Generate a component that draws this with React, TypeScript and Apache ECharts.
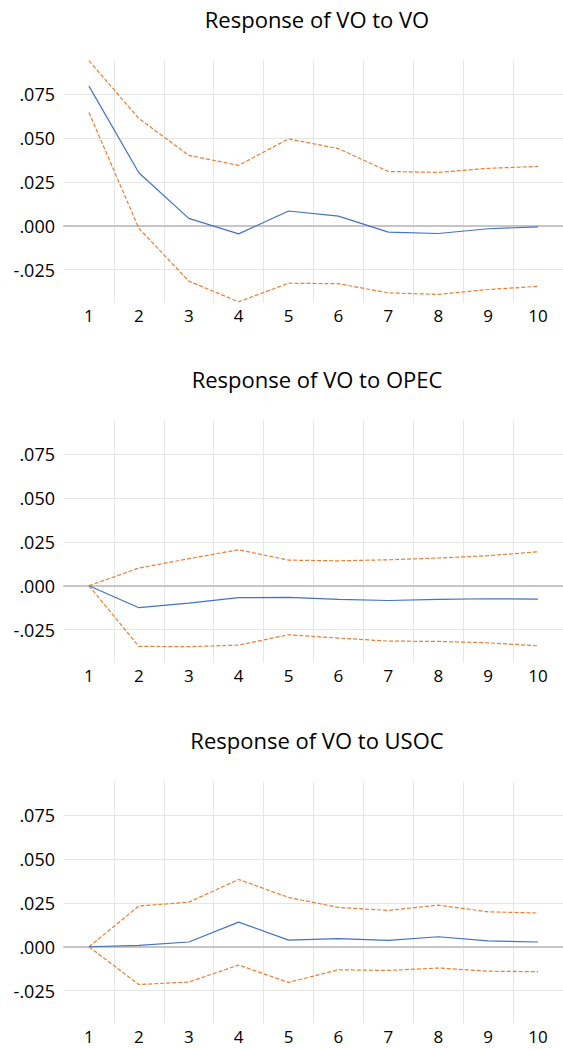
import React, { useEffect, useRef } from "react";
import * as echarts from "echarts";

const categories = ["1", "2", "3", "4", "5", "6", "7", "8", "9", "10"];
const titles = ["Response of VO to VO", "Response of VO to OPEC", "Response of VO to USOC"];

const voToVo = [0.0795, 0.0302, 0.0042, -0.0046, 0.0084, 0.0055, -0.0036, -0.0044, -0.0017, -0.0006];
const voToVoUpper = [0.094, 0.0611, 0.0401, 0.0344, 0.0495, 0.0439, 0.0309, 0.0304, 0.0327, 0.0338];
const voToVoLower = [0.0645, -0.0015, -0.0315, -0.0433, -0.0327, -0.033, -0.0382, -0.0391, -0.0363, -0.0345];

const voToOpec = [0, -0.0125, -0.0099, -0.0068, -0.0066, -0.0078, -0.0084, -0.0078, -0.0074, -0.0076];
const voToOpecUpper = [0, 0.0101, 0.0154, 0.0205, 0.0146, 0.0142, 0.0148, 0.0158, 0.0171, 0.0194];
const voToOpecLower = [0, -0.0345, -0.0347, -0.0338, -0.0279, -0.0298, -0.0315, -0.0317, -0.0325, -0.0342];

const voToUsoc = [0, 0.0008, 0.0027, 0.014, 0.0038, 0.0046, 0.0036, 0.0057, 0.0034, 0.0027];
const voToUsocUpper = [0, 0.0232, 0.0254, 0.0383, 0.0281, 0.0224, 0.0207, 0.0237, 0.0199, 0.0192];
const voToUsocLower = [0, -0.0215, -0.0201, -0.0104, -0.0203, -0.0131, -0.0135, -0.0121, -0.0139, -0.0142];

const panels = [
  { title: titles[0], mid: voToVo, upper: voToVoUpper, lower: voToVoLower },
  { title: titles[1], mid: voToOpec, upper: voToOpecUpper, lower: voToOpecLower },
  { title: titles[2], mid: voToUsoc, upper: voToUsocUpper, lower: voToUsocLower },
];

const FONT = "Open Sans";
const PANEL_TOPS = [60.7, 420.7, 781.7];
const PX_PER_UNIT = 1756;
const DATA_MIN = -0.0437;
const DATA_MAX = 0.094;
const GRID_LEFT = 64;
const GRID_WIDTH = 506;

function fmt(v: number) {
  const r = Math.round(v * 1000) / 1000;
  const s = Math.abs(r).toFixed(3).replace(/^0/, "");
  return (r < 0 ? "-" : "") + s;
}

export default function App() {
  const ref = useRef<HTMLDivElement>(null);
  useEffect(() => {
    if (!ref.current) return;
    const chart = echarts.init(ref.current, null, { renderer: "svg" });
    const grid: any[] = [];
    const xAxis: any[] = [];
    const yAxis: any[] = [];
    const series: any[] = [];
    const title: any[] = [];
    panels.forEach((p, i) => {
      const top = PANEL_TOPS[i];
      const zero = top + DATA_MAX * PX_PER_UNIT;
      const dataH = (DATA_MAX - DATA_MIN) * PX_PER_UNIT;
      grid.push({ left: GRID_LEFT, top, width: GRID_WIDTH, height: dataH });
      grid.push({ left: GRID_LEFT, top: zero - 0.1 * PX_PER_UNIT, width: GRID_WIDTH, height: 0.15 * PX_PER_UNIT });
      xAxis.push({
        type: "category",
        gridIndex: 2 * i,
        data: categories,
        boundaryGap: true,
        axisLine: { show: false, onZero: false },
        axisTick: { show: false },
        axisLabel: { fontSize: 17, lineHeight: 16, color: "#000", margin: 5, fontFamily: FONT },
        splitLine: { show: true, showMinLine: false, lineStyle: { color: "#E6E6E6", width: 1 } },
        z: 1,
      });
      yAxis.push({ type: "value", gridIndex: 2 * i, min: DATA_MIN, max: DATA_MAX, show: false });
      xAxis.push({
        type: "value",
        gridIndex: 2 * i + 1,
        min: 0,
        max: 1,
        axisLine: { show: true, onZero: true, lineStyle: { color: "#C6C6C6", width: 2 } },
        axisTick: { show: false },
        axisLabel: { show: false },
        splitLine: { show: false },
        z: 2,
      });
      yAxis.push({
        type: "value",
        gridIndex: 2 * i + 1,
        min: -0.05,
        max: 0.1,
        interval: 0.025,
        axisLine: { show: false },
        axisTick: { show: false },
        splitLine: { show: true, showMinLine: false, showMaxLine: false, lineStyle: { color: "#E6E6E6", width: 1 } },
        axisLabel: {
          showMinLabel: false,
          showMaxLabel: false,
          margin: 9,
          fontSize: 18,
          color: "#000",
          fontFamily: FONT,
          formatter: (v: number) => fmt(v),
        },
      });
      const lineBase = { type: "line", xAxisIndex: 2 * i, yAxisIndex: 2 * i, symbol: "none", z: 3 };
      series.push({ ...lineBase, name: "upper" + i, data: p.upper, lineStyle: { color: "#ED7D31", width: 1.2, type: [4, 2] } });
      series.push({ ...lineBase, name: "lower" + i, data: p.lower, lineStyle: { color: "#ED7D31", width: 1.2, type: [4, 2] } });
      series.push({ ...lineBase, name: "mid" + i, data: p.mid, lineStyle: { color: "#4472C4", width: 1.2 } });
      title.push({
        text: p.title,
        left: GRID_LEFT + GRID_WIDTH / 2,
        textAlign: "center",
        top: top - 41.5 - 11,
        padding: 0,
        textStyle: { fontSize: 22, fontWeight: "normal", color: "#000", fontFamily: FONT },
      });
    });
    chart.setOption({
      animation: false,
      backgroundColor: "#fff",
      title,
      grid,
      xAxis,
      yAxis,
      series,
    });
    return () => chart.dispose();
  }, []);
  return <div ref={ref} style={{ position: "absolute", left: 0, top: 0, width: 563, height: 1049 }} />;
}
